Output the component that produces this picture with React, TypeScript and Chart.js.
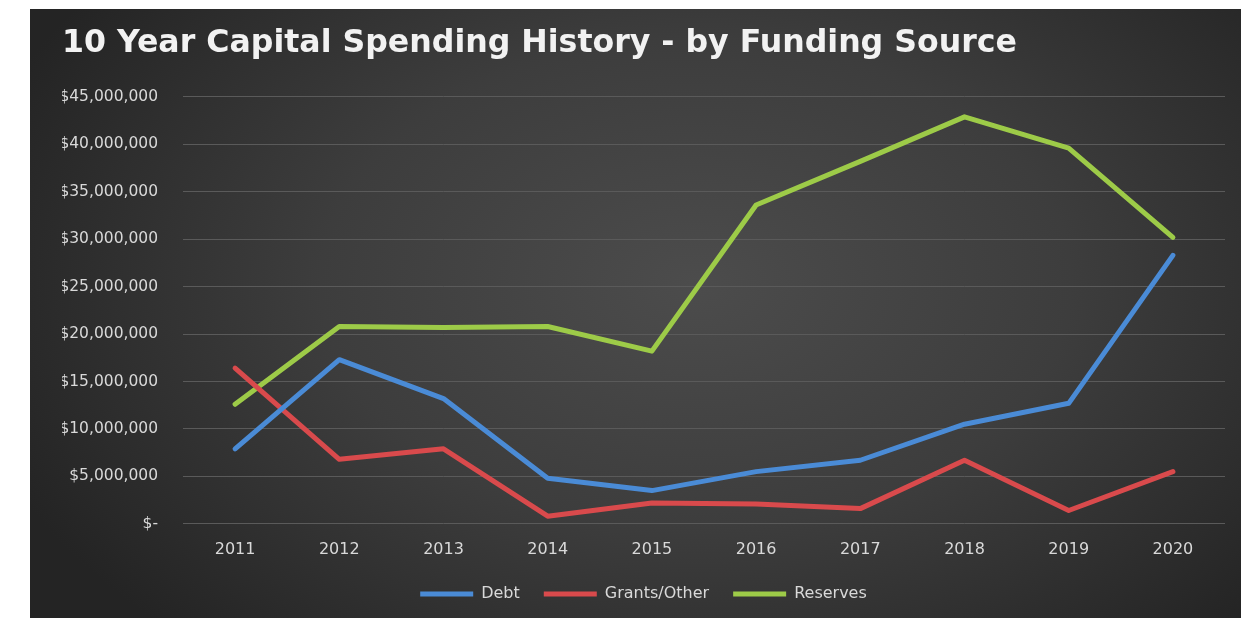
import React, { useEffect, useRef } from 'react';
import { Chart, registerables } from 'chart.js';

Chart.register(...registerables);

const years = ['2011', '2012', '2013', '2014', '2015', '2016', '2017', '2018', '2019', '2020'];
const debt = [7900000, 17300000, 13200000, 4800000, 3500000, 5500000, 6700000, 10500000, 12700000, 28300000];
const grantsOther = [16400000, 6800000, 7900000, 800000, 2200000, 2100000, 1600000, 6700000, 1400000, 5500000];
const reserves = [12600000, 20800000, 20700000, 20800000, 18200000, 33600000, 38200000, 42900000, 39600000, 30200000];
const seriesNames = ['Debt', 'Grants/Other', 'Reserves'];
const titleText = '10 Year Capital Spending History - by Funding Source';

const bgPlugin = {
  id: 'bgGradient',
  beforeDraw(chart: any) {
    const { ctx, width, height } = chart;
    ctx.save();
    const cx = width * 0.55;
    const cy = height * 0.45;
    const rx = width * 0.62;
    const ry = height * 0.8;
    ctx.fillStyle = '#242424';
    ctx.fillRect(0, 0, width, height);
    ctx.translate(cx, cy);
    ctx.scale(1, ry / rx);
    const g = ctx.createRadialGradient(0, 0, 0, 0, 0, rx);
    g.addColorStop(0, '#4c4c4c');
    g.addColorStop(0.5, '#3d3d3d');
    g.addColorStop(1, '#242424');
    ctx.fillStyle = g;
    ctx.fillRect(-cx, -cy / (ry / rx), width, height / (ry / rx));
    ctx.restore();
  },
};

export default function App() {
  const ref = useRef<HTMLCanvasElement | null>(null);

  useEffect(() => {
    if (!ref.current) return;
    const lineDs = (label: string, data: number[], color: string) => ({
      label,
      data,
      borderColor: color,
      backgroundColor: color,
      borderWidth: 5,
      pointRadius: 0,
      pointHoverRadius: 0,
      tension: 0,
      borderJoinStyle: 'round' as const,
      borderCapStyle: 'round' as const,
      fill: false,
    });
    const chart = new Chart(ref.current, {
      type: 'line',
      data: {
        labels: years,
        datasets: [
          lineDs(seriesNames[0], debt, '#4a8bd6'),
          lineDs(seriesNames[1], grantsOther, '#d94a4c'),
          lineDs(seriesNames[2], reserves, '#9dcb48'),
        ],
      },
      options: {
        responsive: false,
        animation: false,
        devicePixelRatio: 1,
        layout: { padding: { left: 32, right: 16, top: 0, bottom: 6 } },
        plugins: {
          title: {
            display: true,
            text: titleText,
            align: 'start',
            color: '#f2f2f2',
            font: { family: 'DejaVu Sans', size: 31.6, weight: 'bold' },
            padding: { top: 16, bottom: 34 },
          },
          legend: {
            position: 'bottom',
            labels: {
              color: '#d9d9d9',
              font: { family: 'DejaVu Sans', size: 16 },
              usePointStyle: true,
              pointStyle: 'line',
              pointStyleWidth: 53,
              boxHeight: 16,
              padding: 24,
            },
          },
          tooltip: { enabled: false },
        },
        scales: {
          x: {
            offset: true,
            grid: { display: false, drawTicks: false },
            border: { display: false },
            afterFit(scale: any) {
              scale.height = scale.height - 13;
            },
            ticks: {
              color: '#d9d9d9',
              font: { family: 'DejaVu Sans', size: 16 },
              padding: 16,
              maxRotation: 0,
            },
          },
          y: {
            min: 0,
            max: 45000000,
            afterFit(scale: any) {
              scale.width = 121;
            },
            grid: { color: '#5a5a5a', lineWidth: 1, drawTicks: false },
            border: { display: false },
            ticks: {
              stepSize: 5000000,
              color: '#d9d9d9',
              font: { family: 'DejaVu Sans', size: 15.5 },
              padding: 25,
              callback: (v: any) => (Number(v) === 0 ? '$-' : '$' + Number(v).toLocaleString('en-US')),
            },
          },
        },
      },
      plugins: [bgPlugin],
    });
    return () => chart.destroy();
  }, []);

  return (
    <div style={{ position: 'fixed', left: 0, top: 0, width: 1241, height: 618, background: '#ffffff' }}>
      <canvas
        ref={ref}
        width={1211}
        height={609}
        style={{ position: 'absolute', left: 30, top: 9, width: 1211, height: 609 }}
      />
    </div>
  );
}
